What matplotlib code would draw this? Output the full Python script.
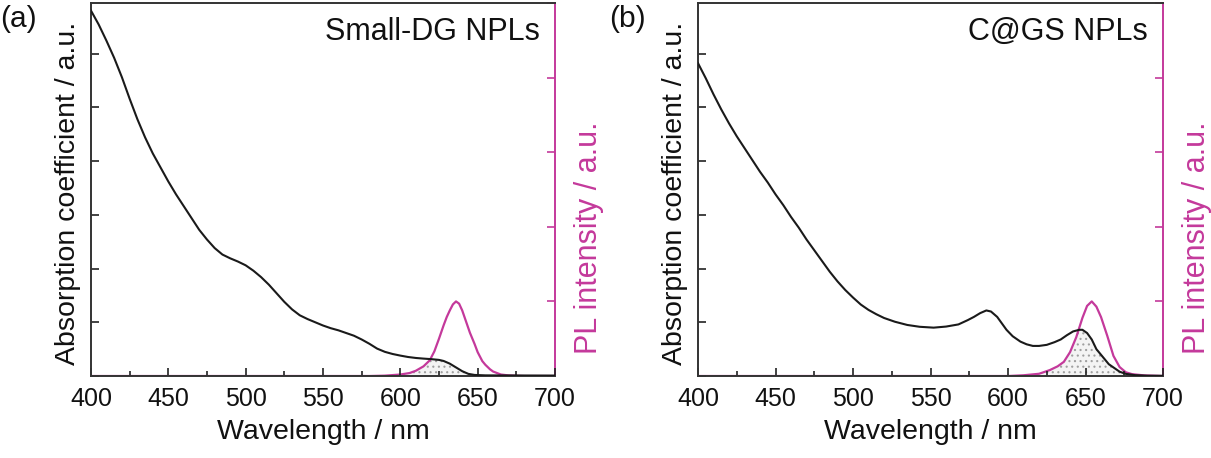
import numpy as np
import matplotlib
matplotlib.use("Agg")
import matplotlib.pyplot as plt
from matplotlib.ticker import MultipleLocator

plt.rcParams['font.family'] = ['Liberation Sans', 'DejaVu Sans']
plt.rcParams['hatch.color'] = '#9a9a9a'
plt.rcParams['hatch.linewidth'] = 0.8

MAG = '#C4399B'

# ---------------- Panel (a): Small-DG NPLs ----------------
wl_abs_a = [400, 405, 410, 415, 420, 425, 430, 435, 440, 445, 450, 455, 460, 465,
            470, 475, 480, 485, 490, 495, 500, 505, 510, 515, 520, 525, 530, 535,
            540, 545, 550, 555, 560, 565, 570, 575, 580, 585, 590, 595, 600, 605,
            610, 615, 620, 625, 628, 632, 636, 640, 644, 648, 655, 670, 700]
abs_a = [3.40, 3.27, 3.12, 2.96, 2.78, 2.58, 2.39, 2.22, 2.07, 1.94, 1.81, 1.69,
         1.58, 1.47, 1.36, 1.27, 1.19, 1.13, 1.095, 1.065, 1.03, 0.98, 0.92, 0.85,
         0.77, 0.69, 0.62, 0.565, 0.53, 0.50, 0.47, 0.445, 0.425, 0.40, 0.375,
         0.34, 0.30, 0.255, 0.225, 0.205, 0.19, 0.177, 0.168, 0.162, 0.157, 0.15,
         0.14, 0.115, 0.08, 0.045, 0.02, 0.01, 0.006, 0.005, 0.004]
wl_pl_a = [400, 580, 590, 600, 606, 610, 615, 619, 622, 625, 628, 630, 632, 634,
           636, 638, 640, 643, 645, 648, 650, 653, 655, 658, 660, 665, 670, 680, 700]
pl_a = [0.0, 0.0, 0.005, 0.02, 0.04, 0.07, 0.13, 0.21, 0.33, 0.50, 0.68, 0.79, 0.88,
        0.96, 1.0, 0.97, 0.88, 0.70, 0.58, 0.43, 0.32, 0.20, 0.15, 0.09, 0.06, 0.02,
        0.008, 0.0, 0.0]

# ---------------- Panel (b): C@GS NPLs ----------------
wl_abs_b = [400, 405, 410, 415, 420, 425, 430, 435, 440, 445, 450, 455, 460, 465,
            470, 475, 480, 485, 490, 495, 500, 505, 510, 515, 520, 527, 535, 543,
            552, 560, 568, 574, 578, 582, 586, 589, 593, 596, 599, 603, 608, 612,
            616, 620, 625, 630, 634, 638, 642, 646, 648, 651, 654, 657, 661, 665,
            668, 672, 676, 682, 690, 700]
abs_b = [2.91, 2.77, 2.62, 2.48, 2.35, 2.23, 2.12, 2.01, 1.90, 1.80, 1.69, 1.59,
         1.48, 1.38, 1.27, 1.17, 1.07, 0.97, 0.88, 0.80, 0.73, 0.665, 0.615, 0.575,
         0.54, 0.505, 0.475, 0.458, 0.45, 0.46, 0.48, 0.52, 0.55, 0.585, 0.61, 0.60,
         0.55, 0.49, 0.43, 0.37, 0.32, 0.295, 0.28, 0.28, 0.29, 0.315, 0.34, 0.38,
         0.415, 0.43, 0.43, 0.40, 0.34, 0.25, 0.18, 0.11, 0.08, 0.04, 0.02, 0.008,
         0.003, 0.002]
wl_pl_b = [400, 600, 610, 620, 627, 632, 636, 640, 644, 648, 651, 654, 657, 660, 664,
           668, 672, 676, 680, 688, 700]
pl_b = [0.0, 0.0, 0.01, 0.03, 0.08, 0.13, 0.19, 0.32, 0.52, 0.78, 0.94, 1.0, 0.93,
        0.79, 0.54, 0.27, 0.12, 0.05, 0.025, 0.008, 0.0]

panels = [
    dict(tag='(a)', name='Small-DG NPLs', wl_abs=wl_abs_a, absv=abs_a,
         wl_pl=wl_pl_a, pl=pl_a, rect=[0.0751, 0.179, 0.3832, 0.8144], tagx=0.0),
    dict(tag='(b)', name='C@GS NPLs', wl_abs=wl_abs_b, absv=abs_b,
         wl_pl=wl_pl_b, pl=pl_b, rect=[0.5764, 0.179, 0.384, 0.8144], tagx=0.503),
]

fig = plt.figure(figsize=(12.11, 4.58), dpi=100)
Y1 = (0, 3.47)
Y2 = (0, 5.0)
FS_LAB = 20.5
FS_TICK = 18

for p in panels:
    ax = fig.add_axes(p['rect'])
    ax2 = ax.twinx()
    ax.set_xlim(400, 700)
    ax.set_ylim(*Y1)
    ax2.set_ylim(*Y2)

    xs = np.linspace(400, 700, 1201)
    a_s = np.interp(xs, p['wl_abs'], p['absv'])
    pl_s = np.interp(xs, p['wl_pl'], p['pl'])
    a_in2 = a_s / Y1[1] * Y2[1]
    overlap = np.minimum(a_in2, pl_s)
    ax2.fill_between(xs, 0, overlap, facecolor='#f4f4f4', edgecolor='#a0a0a0',
                     hatch='...', linewidth=0, zorder=1)

    ax.plot(p['wl_abs'], p['absv'], color='#1a1a1a', lw=1.5, zorder=3)
    ax2.plot(p['wl_pl'], p['pl'], color=MAG, lw=1.6, zorder=2)

    ax.set_zorder(ax2.get_zorder() + 1)
    ax.patch.set_visible(False)

    ax.xaxis.set_major_locator(MultipleLocator(50))
    ax.xaxis.set_minor_locator(MultipleLocator(25))
    ax.yaxis.set_major_locator(MultipleLocator(1))
    ax.yaxis.set_minor_locator(MultipleLocator(0.5))
    ax2.yaxis.set_major_locator(MultipleLocator(1))

    ax.tick_params(axis='x', which='major', direction='in', length=6, width=1.2,
                   labelsize=FS_TICK, pad=8, top=False, colors='#222222',
                   labelcolor='#111111')
    ax.tick_params(axis='x', which='minor', direction='in', length=3.5, width=1.2,
                   top=False, colors='#222222')
    ax.tick_params(axis='y', which='major', direction='in', length=6, width=1.2,
                   labelleft=False, colors='#222222')
    ax.tick_params(axis='y', which='minor', direction='in', length=6, width=1.2,
                   colors='#222222')
    ax2.tick_params(axis='y', which='major', direction='in', length=6, width=1.2,
                    colors=MAG, labelright=False)

    for s in ['left', 'top', 'bottom']:
        ax.spines[s].set_color('#333333')
        ax.spines[s].set_linewidth(1.4)
    ax.spines['right'].set_visible(False)
    ax2.spines['right'].set_color(MAG)
    ax2.spines['right'].set_linewidth(1.4)
    for s in ['left', 'top', 'bottom']:
        ax2.spines[s].set_visible(False)

    ax.set_xlabel('Wavelength / nm', fontsize=FS_LAB, labelpad=6, color='#111111')
    ax.set_ylabel('Absorption coefficient / a.u.', fontsize=FS_LAB, color='#111111')
    ax2.set_ylabel('PL intensity / a.u.', fontsize=22, color=MAG)
    ax.yaxis.set_label_coords(-0.022, 0.49)
    ax2.yaxis.set_label_coords(1.04, 0.37)

    ax.text(0.967, 0.90, p['name'], transform=ax.transAxes, ha='right',
            va='baseline', fontsize=22, color='#111111')
    fig.text(p['tagx'], 0.99, p['tag'], ha='left', va='top', fontsize=21.5,
             color='#111111')

fig.savefig('out.png', dpi=100)
